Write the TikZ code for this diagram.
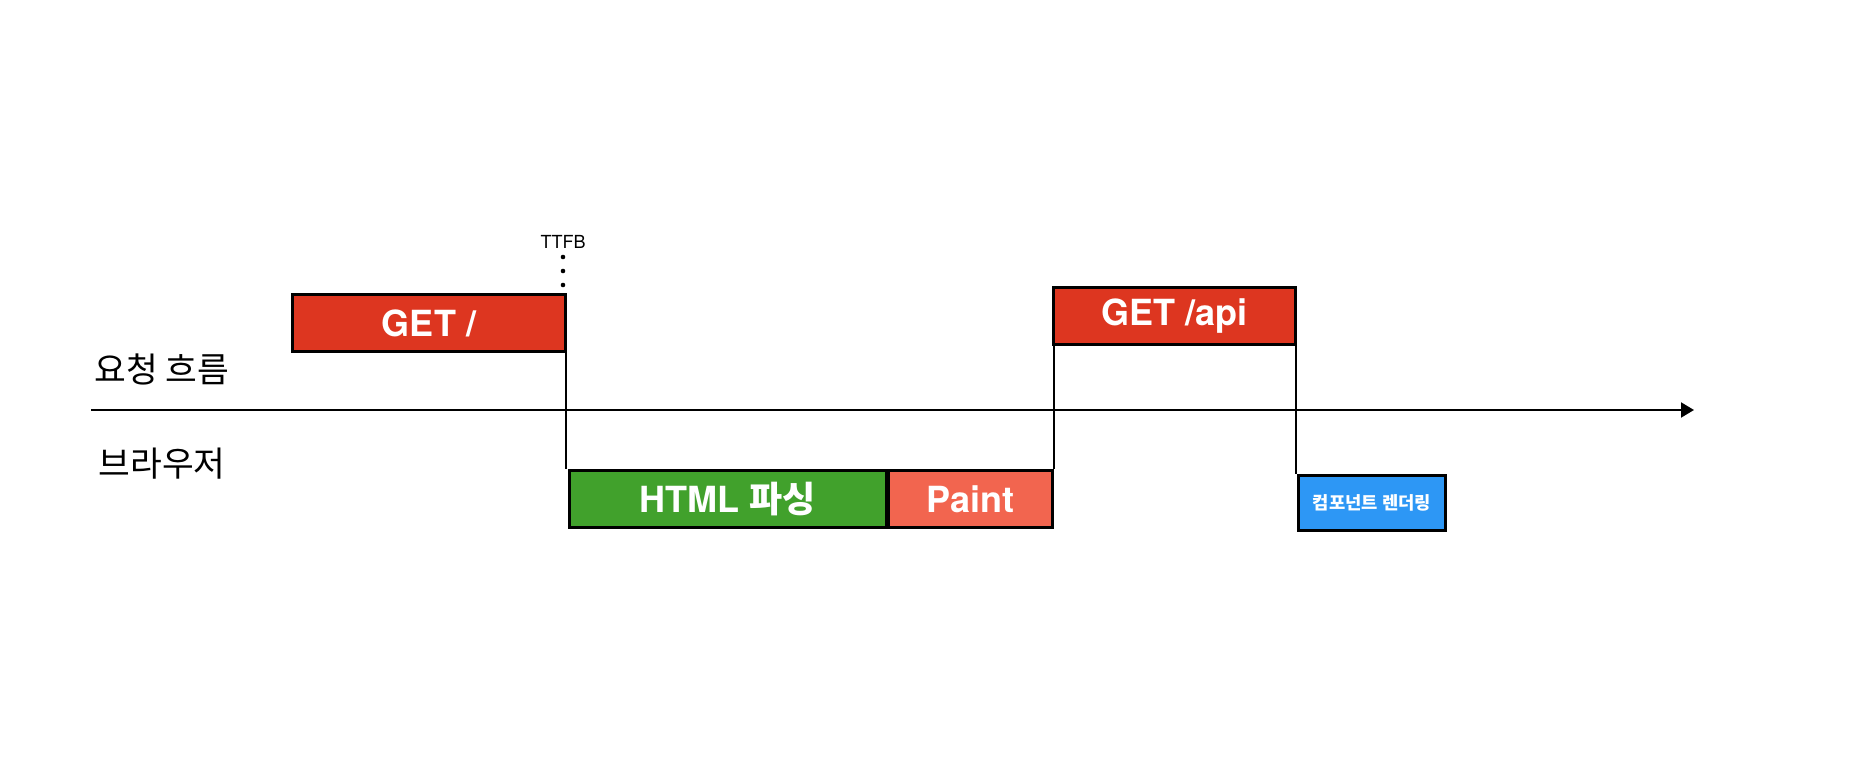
\documentclass[tikz,border=0pt]{standalone}
\usepackage{fontspec}
\setmainfont{TeX Gyre Heros}
\newfontfamily\kr{Noto Sans CJK KR}
\usepackage{xcolor}
\usetikzlibrary{arrows.meta}

\definecolor{reqred}{RGB}{221,54,32}
\definecolor{parsegreen}{RGB}{65,161,44}
\definecolor{paintred}{RGB}{242,101,79}
\definecolor{renderblue}{RGB}{45,151,245}

\begin{document}
\begin{tikzpicture}[x=1pt,y=-1pt,>=Stealth]

% Stili per i blocchi e le linee
\tikzset{
  stagebox/.style={draw=black, line width=3pt, inner sep=0pt, minimum height=57pt,
    text=white, font=\bfseries\fontsize{36}{36}\selectfont},
  guide/.style={line width=2pt},
}

\useasboundingbox (0,0) rectangle (1850,764);

% --- Asse del tempo ---
\coordinate (axstart) at (91,410);
\coordinate (axend) at (1694,410);
\draw[line width=2pt, -{Triangle[length=13pt,width=15pt]}] (axstart) -- (axend);

% Etichette delle righe
\node[anchor=west, font=\kr\fontsize{34.5}{34.5}\selectfont] (reqlabel) at (91,369) {요청 흐름};
\node[anchor=west, font=\kr\fontsize{34.5}{34.5}\selectfont] (browserlabel) at (95,464) {브라우저};

% --- Riga superiore: richieste ---
\node[stagebox, fill=reqred, minimum width=273pt] (get) at (429,323) {GET /};
\node[stagebox, fill=reqred, minimum width=242pt] (api) at (1174.5,316) {GET /api};

% TTFB
\node[font=\fontsize{18}{18}\selectfont] (ttfb) at (563,242) {TTFB};
\foreach \y in {257,271,285}
  \fill (563,\y) circle (2.3pt);

% --- Riga inferiore: browser ---
\node[stagebox, fill=parsegreen, minimum width=317pt] (html) at (728,499) {HTML {\kr 파싱}};
\node[stagebox, fill=paintred, minimum width=164.5pt, anchor=west] (paint) at ([xshift=-1.5pt]html.east) {Paint};
\node[stagebox, fill=renderblue, minimum width=147pt, minimum height=55pt,
  font=\kr\bfseries\fontsize{17.7}{17.7}\selectfont] (render) at (1372,503) {컴포넌트 렌더링};

% Linee di collegamento
\draw[guide] ([xshift=-1.5pt]get.south east) -- ([xshift=-1.5pt]get.south east |- html.north);
\draw[guide] ([xshift=1.5pt]api.south west) -- ([xshift=1.5pt]api.south west |- paint.north);
\draw[guide] ([xshift=-1.5pt]api.south east) -- ([xshift=-1.5pt]api.south east |- render.north);
\end{tikzpicture}
\end{document}
